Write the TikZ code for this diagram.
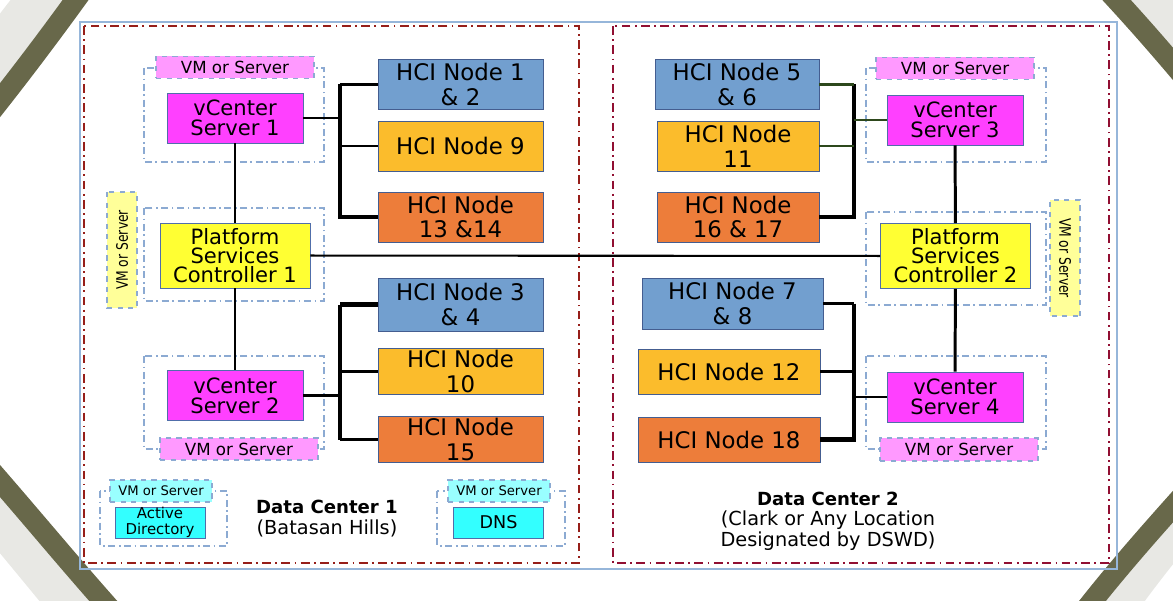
\documentclass[tikz,border=0pt]{standalone}
\usepackage{fontspec}
\setmainfont{DejaVu Sans}
\newfontfamily\condensedfont{DejaVu Sans}[FakeStretch=0.78]
\usepackage{xcolor}
\usetikzlibrary{positioning}
\definecolor{dcred}{RGB}{150,30,25}
\definecolor{dcwine}{RGB}{145,15,50}
\definecolor{frameblue}{RGB}{150,182,218}
\definecolor{holderblue}{RGB}{140,170,210}
\definecolor{boxedge}{RGB}{80,110,170}
\definecolor{vcmagenta}{RGB}{255,64,255}
\definecolor{tagpink}{RGB}{255,153,255}
\definecolor{pscyellow}{RGB}{255,255,51}
\definecolor{tagyellow}{RGB}{255,255,153}
\definecolor{hciblue}{RGB}{114,159,207}
\definecolor{hcigold}{RGB}{251,188,44}
\definecolor{hciorange}{RGB}{237,125,58}
\definecolor{adcyan}{RGB}{51,255,255}
\definecolor{tagcyan}{RGB}{153,255,255}
\definecolor{bandolive}{RGB}{104,104,74}
\definecolor{bandgrey}{RGB}{232,232,228}
\definecolor{linkgreen}{RGB}{45,72,28}

\begin{document}
\begin{tikzpicture}[x=0.02cm, y=-0.02cm,
	box/.style={draw=boxedge, line width=0.5pt, align=center, inner sep=1pt},
	vcenter/.style={box, fill=vcmagenta, minimum width=2.72cm, minimum height=1cm, font=\fontsize{12}{11.5}\selectfont},
	psc/.style={box, fill=pscyellow, minimum width=3cm, minimum height=1.3cm, font=\fontsize{12}{10.8}\selectfont},
	hci/.style={box, draw=boxedge!85!black, minimum width=3.3cm, minimum height=1cm, font=\fontsize{13}{14.2}\selectfont},
	vmtag/.style={draw=holderblue, dashed, line width=0.6pt, fill=tagpink, minimum width=3.16cm, minimum height=0.44cm, inner sep=0pt, font=\fontsize{9.5}{10}\selectfont},
	vmside/.style={vmtag, fill=tagyellow, minimum width=2.32cm, minimum height=0.6cm, font=\condensedfont\fontsize{9}{10}\selectfont},
	adtag/.style={vmtag, fill=tagcyan, minimum width=2.04cm, font=\fontsize{7.5}{8}\selectfont},
	adbox/.style={box, fill=adcyan, minimum width=1.8cm, minimum height=0.62cm, inner sep=0pt, font=\fontsize{8.5}{9}\selectfont},
	holder/.style={draw=holderblue, line width=0.6pt, dash pattern=on 4pt off 2pt on 1pt off 2pt},
	dcbox/.style={line width=1.6pt, dash pattern=on 5pt off 2.5pt on 1pt off 2.5pt},
	band/.style={bandolive, line width=0.42cm},
	fringe/.style={bandgrey, line width=0.9cm},
	link/.style={line width=1.2pt},
	trunk/.style={line width=1.7pt},
	bus/.style={line width=2.4pt}]

	\useasboundingbox (0,0) rectangle (1173,601);
	\clip (0,0) rectangle (1173,601);

	% Corners of the round backdrop
	\draw[fringe] (-45,110) .. controls (0,50) and (35,5) .. (70,-40);
	\draw[fringe] (-40,470) .. controls (10,530) and (60,590) .. (100,640);
	\draw[fringe] (1215,480) .. controls (1170,530) and (1130,580) .. (1090,640);
	\draw[fringe] (1125,-40) .. controls (1160,0) and (1190,40) .. (1215,75);
	\draw[band] (-22,128) .. controls (18,78) and (52,33) .. (90,-20);
	\draw[band] (-20,458) .. controls (30,515) and (75,570) .. (122,622);
	\draw[band] (1195,482) .. controls (1150,532) and (1112,575) .. (1076,622);
	\draw[band] (1098,-20) .. controls (1130,14) and (1160,48) .. (1195,90);

	% Frame and the two data centers
	\draw[frameblue, line width=1pt] (80,22) rectangle (1117,569);
	\draw[dcbox, dcred] (84,26) rectangle (579,563);
	\draw[dcbox, dcwine] (613,26) rectangle (1109,563);

	% VM or Server holders
	\draw[holder] (144,68) rectangle (324,162);
	\draw[holder] (144,208) rectangle (324,301);
	\draw[holder] (144,356) rectangle (324,449);
	\draw[holder] (866,68) rectangle (1046,162);
	\draw[holder] (866,212) rectangle (1046,305);
	\draw[holder] (866,356) rectangle (1046,449);
	\draw[holder] (100,491) rectangle (227,546);
	\draw[holder] (437,491) rectangle (565,546);

	% Data Center 1
	\node[vcenter] (vc1) at (235,118) {vCenter\\Server 1};
	\node[psc] (psc1) at (235,255.5) {Platform\\Services\\Controller 1};
	\node[vcenter] (vc2) at (235,395.5) {vCenter\\Server 2};
	\node[vmtag, above=0.28cm of vc1] (tag1) {VM or Server};
	\node[vmtag] (tag2) at (239,449) {VM or Server};
	\node[vmside, rotate=90] (side1) at (122,250) {VM or Server};

	\node[hci, fill=hciblue] (hci12) at (460.5,84.5) {HCI Node 1\\\& 2};
	\node[hci, fill=hcigold] (hci9) at (460.5,146) {HCI Node 9};
	\node[hci, fill=hciorange] (hci1314) at (460.5,217) {HCI Node\\13 \&14};
	\node[hci, fill=hciblue, minimum height=1.06cm] (hci34) at (460.5,304.5) {HCI Node 3\\\& 4};
	\node[hci, fill=hcigold, minimum height=0.9cm] (hci10) at (460.5,371.5) {HCI Node\\10};
	\node[hci, fill=hciorange, minimum height=0.9cm] (hci15) at (460.5,439.5) {HCI Node\\15};

	\node[adtag] (tagad) at (161,491) {VM or Server};
	\node[adbox] (ad) at (160,522.5) {Active\\Directory};
	\node[adtag] (tagdns) at (499,491) {VM or Server};
	\node[adbox, font=\fontsize{10}{11}\selectfont] (dns) at (498.5,522.5) {DNS};

	\node[align=center, font=\fontsize{11}{11.7}\selectfont] (dc1) at (327,518.5)
		{{\fontsize{10.3}{11.7}\selectfont\bfseries Data Center 1}\\(Batasan Hills)};

	% Data Center 2
	\node[vcenter] (vc3) at (955,120) {vCenter\\Server 3};
	\node[psc] (psc2) at (955.5,256) {Platform\\Services\\Controller 2};
	\node[vcenter] (vc4) at (955,397) {vCenter\\Server 4};
	\node[vmtag, above=0.3cm of vc3] (tag3) {VM or Server};
	\node[vmtag, minimum height=0.46cm] (tag4) at (959,449.5) {VM or Server};
	\node[vmside, rotate=-90] (side2) at (1065,258) {VM or Server};

	\node[hci, fill=hciblue, minimum width=3.28cm] (hci56) at (737,84.5) {HCI Node 5\\\& 6};
	\node[hci, fill=hcigold, minimum width=3.24cm] (hci11) at (738,146) {HCI Node\\11};
	\node[hci, fill=hciorange, minimum width=3.24cm] (hci1617) at (738,217) {HCI Node\\16 \& 17};
	\node[hci, fill=hciblue, minimum width=3.62cm, minimum height=1.02cm] (hci78) at (732.5,303.5) {HCI Node 7\\\& 8};
	\node[hci, fill=hcigold, minimum width=3.64cm, minimum height=0.9cm] (hci12n) at (729,371.5) {HCI Node 12};
	\node[hci, fill=hciorange, minimum width=3.64cm, minimum height=0.9cm] (hci18) at (729,439.5) {HCI Node 18};

	\node[align=center, font=\fontsize{11}{11.7}\selectfont] (dc2) at (828,521)
		{{\fontsize{10.3}{11.7}\selectfont\bfseries Data Center 2}\\(Clark or Any Location\\Designated by DSWD)};

	% Bus lines
	\coordinate (b1) at (340,0);
	\coordinate (b2) at (854,0);

	\draw[bus] (hci12.west -| b1) |- (hci1314.west);
	\draw[link] (hci12.west) -- (hci12.west -| b1);
	\draw[link] (hci9.west) -- (hci9.west -| b1);
	\draw[link] (vc1.east) -- (vc1.east -| b1);

	\draw[bus] (hci34.west -| b1) -- (hci15.west -| b1);
	\draw[bus] (hci34.west) -- (hci34.west -| b1);
	\draw[link] (hci10.west) -- (hci10.west -| b1);
	\draw[link] (hci15.west) -- (hci15.west -| b1);
	\draw[link] (vc2.east) -- (vc2.east -| b1);

	\draw[bus] (hci56.east -| b2) |- (hci1617.east);
	\draw[link, linkgreen] (hci56.east) -- (hci56.east -| b2);
	\draw[link, linkgreen] (hci11.east) -- (hci11.east -| b2);
	\draw[link, linkgreen] (vc3.west) -- (vc3.west -| b2);

	\draw[bus] (hci78.east -| b2) |- (hci18.east);
	\draw[link] (hci78.east) -- (hci78.east -| b2);
	\draw[link] (hci12n.east) -- (hci12n.east -| b2);
	\draw[link] (vc4.west) -- (vc4.west -| b2);

	% vCenter to PSC links
	\draw[trunk] (vc1) -- (psc1);
	\draw[trunk] (psc1) -- (vc2);
	\draw[trunk] (vc3) -- (psc2);
	\draw[trunk] (psc2) -- (vc4);
	\draw[link] (psc1) -- (psc2);
\end{tikzpicture}
\end{document}
